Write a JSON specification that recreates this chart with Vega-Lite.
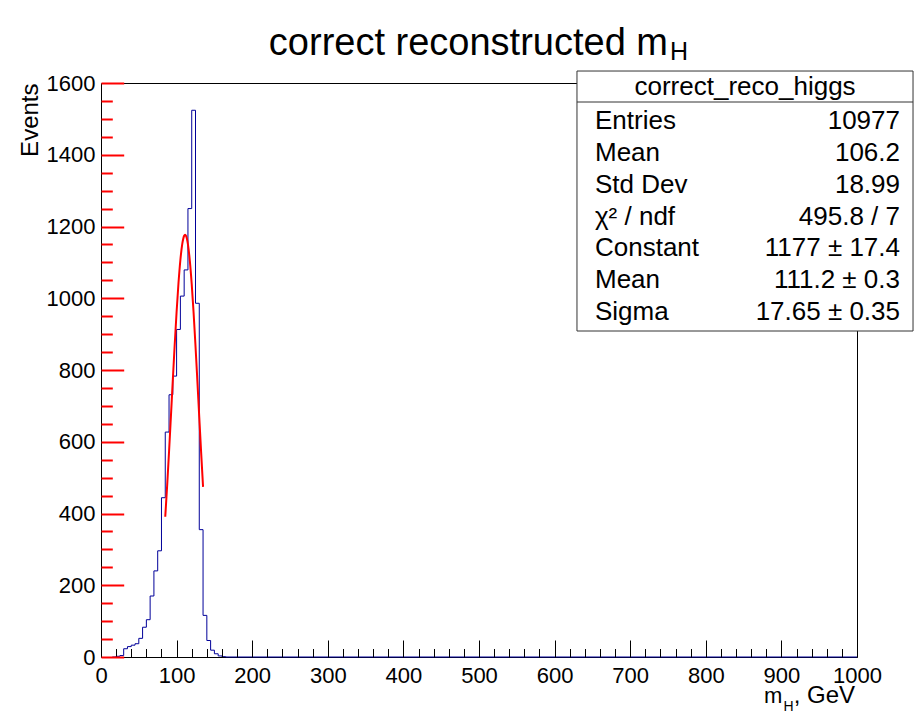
{
  "$schema": "https://vega.github.io/schema/vega-lite/v6.json",
  "width": 756,
  "height": 574,
  "autosize": "none",
  "padding": {"left": 101, "top": 83, "right": 66, "bottom": 57},
  "background": "white",
  "config": {
    "view": {"stroke": "black", "strokeWidth": 1},
    "font": "Liberation Sans",
    "text": {"font": "Liberation Sans", "color": "black"}
  },
  "datasets": {
    "hist": [
      {"m": 15, "events": 0}, {"m": 20, "events": 2}, {"m": 25, "events": 4}, {"m": 30, "events": 23},
      {"m": 35, "events": 29}, {"m": 40, "events": 33}, {"m": 45, "events": 37}, {"m": 50, "events": 52},
      {"m": 55, "events": 83}, {"m": 60, "events": 104}, {"m": 65, "events": 170}, {"m": 70, "events": 240},
      {"m": 75, "events": 296}, {"m": 80, "events": 444}, {"m": 85, "events": 627}, {"m": 90, "events": 731},
      {"m": 95, "events": 783}, {"m": 100, "events": 913}, {"m": 105, "events": 1006}, {"m": 110, "events": 1079},
      {"m": 115, "events": 1250}, {"m": 120, "events": 1524}, {"m": 125, "events": 986}, {"m": 130, "events": 355},
      {"m": 135, "events": 116}, {"m": 140, "events": 46}, {"m": 145, "events": 19}, {"m": 150, "events": 9},
      {"m": 155, "events": 3}, {"m": 160, "events": 1}, {"m": 165, "events": 0}, {"m": 1000, "events": 0}
    ],
    "fit": [
      {"m": 85, "f": 391.1}, {"m": 87.5, "f": 477.8}, {"m": 90, "f": 572.1}, {"m": 92.5, "f": 671.5},
      {"m": 95, "f": 772.4}, {"m": 97.5, "f": 870.9}, {"m": 100, "f": 962.4}, {"m": 102.5, "f": 1042.4},
      {"m": 105, "f": 1106.6}, {"m": 107.5, "f": 1151.4}, {"m": 110, "f": 1174.3}, {"m": 111.2, "f": 1177},
      {"m": 112.5, "f": 1173.8}, {"m": 115, "f": 1150.0}, {"m": 117.5, "f": 1104.4}, {"m": 120, "f": 1039.4},
      {"m": 122.5, "f": 958.9}, {"m": 125, "f": 867.0}, {"m": 127.5, "f": 768.4}, {"m": 130, "f": 667.4},
      {"m": 132.5, "f": 568.2}, {"m": 135, "f": 474.2}
    ],
    "stats": [
      {"row": 1, "label": "Entries", "value": "10977"},
      {"row": 2, "label": "Mean", "value": "106.2"},
      {"row": 3, "label": "Std Dev", "value": "18.99"},
      {"row": 4, "label": "χ² / ndf", "value": "495.8 / 7"},
      {"row": 5, "label": "Constant", "value": "1177 ± 17.4"},
      {"row": 6, "label": "Mean", "value": "111.2 ± 0.3"},
      {"row": 7, "label": "Sigma", "value": "17.65 ± 0.35"}
    ]
  },
  "layer": [
    {
      "layer": [
        {
          "data": {"name": "hist"},
          "mark": {"type": "line", "interpolate": "step-after", "color": "#000099", "strokeWidth": 1},
          "encoding": {
            "x": {
              "field": "m", "type": "quantitative",
              "scale": {"domain": [0, 1000], "nice": false, "zero": false},
              "axis": {
                "values": [0,20,40,60,80,100,120,140,160,180,200,220,240,260,280,300,320,340,360,380,400,420,440,460,480,500,520,540,560,580,600,620,640,660,680,700,720,740,760,780,800,820,840,860,880,900,920,940,960,980,1000],
                "tickCount": 200,
                "tickSize": {"condition": {"test": "datum.value % 100 === 0", "value": -17}, "value": -8.5},
                "tickColor": "black",
                "tickWidth": 1,
                "labelExpr": "datum.value % 100 === 0 ? datum.label : ''",
                "format": "d",
                "labelFontSize": 22,
                "labelColor": "black",
                "labelPadding": 25,
                "labelFlush": false,
                "labelOverlap": false,
                "labelBound": false,
                "domain": false,
                "grid": false,
                "title": null,
                "zindex": 1
              }
            },
            "y": {
              "field": "events", "type": "quantitative",
              "scale": {"domain": [0, 1600], "nice": false},
              "axis": {
                "values": [0,50,100,150,200,250,300,350,400,450,500,550,600,650,700,750,800,850,900,950,1000,1050,1100,1150,1200,1250,1300,1350,1400,1450,1500,1550,1600],
                "tickCount": 200,
                "tickSize": {"condition": {"test": "datum.value % 200 === 0", "value": -22.7}, "value": -11.3},
                "tickColor": "#ff0000",
                "tickWidth": 2,
                "labelExpr": "datum.value % 200 === 0 ? datum.label : ''",
                "format": "d",
                "labelFontSize": 22,
                "labelColor": "black",
                "labelPadding": 28.7,
                "labelFlush": false,
                "labelOverlap": false,
                "labelBound": false,
                "domain": false,
                "grid": false,
                "title": "Events",
                "titleFontSize": 24,
                "titleFontWeight": "normal",
                "titleColor": "black",
                "titleAngle": 270,
                "titleAlign": "right",
                "titleBaseline": "alphabetic",
                "titleX": -64,
                "titleY": 0,
                "zindex": 1
              }
            }
          }
        },
        {
          "data": {"name": "fit"},
          "mark": {"type": "line", "interpolate": "monotone", "color": "#ff0000", "strokeWidth": 2},
          "encoding": {
            "x": {"field": "m", "type": "quantitative"},
            "y": {"field": "f", "type": "quantitative"}
          }
        },
        {
          "data": {"values": [{"t": "correct reconstructed m"}]},
          "mark": {"type": "text", "align": "right", "baseline": "alphabetic", "fontSize": 38},
          "encoding": {"x": {"datum": 750}, "y": {"datum": 1679.4}, "text": {"field": "t"}}
        },
        {
          "data": {"values": [{"t": "H"}]},
          "mark": {"type": "text", "align": "left", "baseline": "alphabetic", "fontSize": 25},
          "encoding": {"x": {"datum": 752.6}, "y": {"datum": 1664.1}, "text": {"field": "t"}}
        },
        {
          "data": {"values": [{"t": "m"}]},
          "mark": {"type": "text", "align": "left", "baseline": "alphabetic", "fontSize": 22},
          "encoding": {"x": {"datum": 877.0}, "y": {"datum": -128.0}, "text": {"field": "t"}}
        },
        {
          "data": {"values": [{"t": "H"}]},
          "mark": {"type": "text", "align": "left", "baseline": "alphabetic", "fontSize": 14},
          "encoding": {"x": {"datum": 902.8}, "y": {"datum": -150.5}, "text": {"field": "t"}}
        },
        {
          "data": {"values": [{"t": ", GeV"}]},
          "mark": {"type": "text", "align": "right", "baseline": "alphabetic", "fontSize": 24},
          "encoding": {"x": {"datum": 997.4}, "y": {"datum": -128.0}, "text": {"field": "t"}}
        },
        {
          "data": {"values": [{"name": "correct_reco_higgs"}]},
          "mark": {"type": "rect", "fill": "white", "stroke": "#333333", "strokeWidth": 1},
          "encoding": {"x": {"datum": 629.6}, "x2": {"datum": 1074.1}, "y": {"datum": 1633.4}, "y2": {"datum": 908.7}}
        },
        {
          "data": {"values": [{"name": "correct_reco_higgs"}]},
          "mark": {"type": "rule", "stroke": "#333333", "strokeWidth": 1},
          "encoding": {"x": {"datum": 629.6}, "x2": {"datum": 1074.1}, "y": {"datum": 1547.0}}
        },
        {
          "data": {"values": [{"name": "correct_reco_higgs"}]},
          "mark": {"type": "text", "align": "center", "baseline": "middle", "fontSize": 26},
          "encoding": {"x": {"datum": 851.9}, "y": {"datum": 1590.2}, "text": {"field": "name"}}
        }
      ]
    },
    {
      "data": {"name": "stats"},
      "encoding": {
        "y": {"field": "row", "type": "ordinal", "scale": {"type": "point", "range": [38, 229], "padding": 0}, "axis": null}
      },
      "layer": [
        {
          "mark": {"type": "text", "align": "left", "baseline": "middle", "fontSize": 26},
          "encoding": {"x": {"datum": 653.4}, "text": {"field": "label"}}
        },
        {
          "mark": {"type": "text", "align": "right", "baseline": "middle", "fontSize": 26},
          "encoding": {"x": {"datum": 1056.9}, "text": {"field": "value"}}
        }
      ]
    }
  ],
  "resolve": {"scale": {"y": "independent"}}
}
